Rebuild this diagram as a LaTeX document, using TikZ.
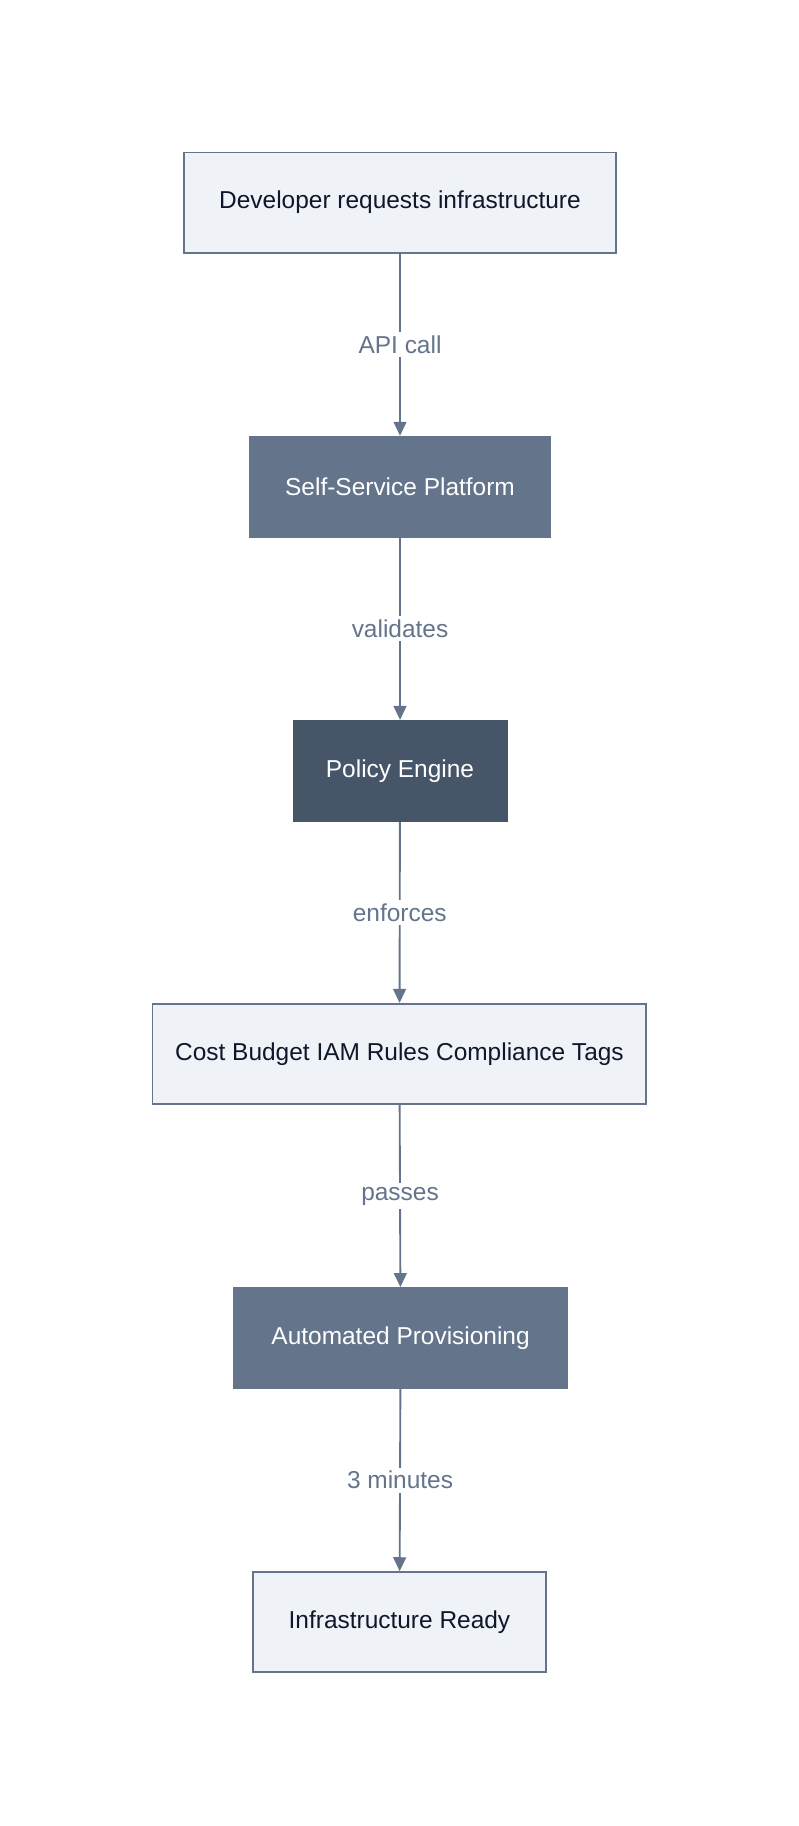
\documentclass[tikz,border=0pt]{standalone}
\usepackage{fontspec}
\setmainfont{Liberation Sans}
\usetikzlibrary{arrows.meta}
\definecolor{lightfill}{HTML}{EFF3F8}
\definecolor{slateb}{HTML}{64748B}
\definecolor{darkfill}{HTML}{475569}
\definecolor{txtdark}{HTML}{0F172A}
\tikzset{
  box/.style={draw=slateb, line width=1.6pt, minimum height=86pt, inner sep=0pt, font=\fontsize{21}{24}\selectfont},
  lightbox/.style={box, fill=lightfill, text=txtdark},
  midbox/.style={box, fill=slateb, draw=slateb, text=white},
  darkbox/.style={box, fill=darkfill, draw=darkfill, text=white},
  conn/.style={draw=slateb, line width=1.6pt, -{Triangle[length=12pt,width=11pt]}},
  elabel/.style={fill=white, text=slateb, font=\fontsize{21}{24}\selectfont, inner sep=3pt}
}
\begin{document}
\begin{tikzpicture}[x=1pt,y=-1pt]
\useasboundingbox[fill=white] (0,0) rectangle (686,1568);
\node[lightbox, minimum width=371pt] (a) at (343.5,174) {Developer requests infrastructure};
\node[midbox, minimum width=257pt] (b) at (343.5,418) {Self-Service Platform};
\node[darkbox, minimum width=183pt] (c) at (343.5,662) {Policy Engine};
\node[lightbox, minimum width=424pt] (d) at (343,905) {Cost Budget IAM Rules Compliance Tags};
\node[midbox, minimum width=286pt] (e) at (344,1149) {Automated Provisioning};
\node[lightbox, minimum width=252pt] (f) at (343,1393) {Infrastructure Ready};
\draw[conn] (a) -- node[elabel] {API call} (b);
\draw[conn] (b) -- node[elabel] {validates} (c);
\draw[conn] (c) -- node[elabel] {enforces} (d);
\draw[conn] (d) -- node[elabel] {passes} (e);
\draw[conn] (e) -- node[elabel] {3 minutes} (f);
\end{tikzpicture}
\end{document}
